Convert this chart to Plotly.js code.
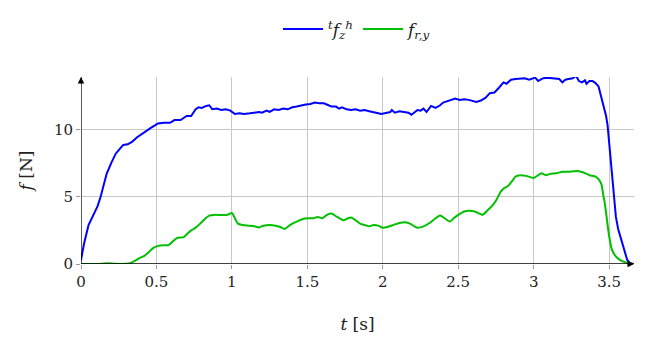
<!DOCTYPE html>
<html><head><meta charset="utf-8">
<script src="https://cdn.plot.ly/plotly-3.0.1.min.js"></script>
<style>body{margin:0;background:#fff}#c{width:667px;height:343px}</style>
</head><body><div id="c"></div>
<script>
const tBlue = [0,0.02,0.05,0.08,0.11,0.13,0.15,0.17,0.2,0.23,0.26,0.28,0.31,0.34,0.37,0.40,0.43,0.46,0.49,0.51,0.55,0.59,0.62,0.66,0.68,0.70,0.73,0.76,0.78,0.80,0.83,0.85,0.87,0.90,0.93,0.96,0.99,1.02,1.05,1.08,1.12,1.15,1.18,1.20,1.23,1.25,1.28,1.31,1.34,1.37,1.40,1.43,1.46,1.49,1.52,1.55,1.58,1.61,1.64,1.66,1.69,1.71,1.73,1.76,1.79,1.82,1.85,1.88,1.91,1.94,1.97,1.99,2.02,2.05,2.06,2.08,2.11,2.14,2.17,2.19,2.21,2.23,2.25,2.27,2.29,2.32,2.35,2.38,2.40,2.43,2.46,2.48,2.51,2.54,2.57,2.60,2.62,2.65,2.68,2.71,2.74,2.77,2.80,2.82,2.85,2.88,2.91,2.94,2.97,2.99,3.01,3.03,3.06,3.09,3.12,3.15,3.17,3.19,3.21,3.23,3.26,3.28,3.30,3.32,3.34,3.35,3.37,3.39,3.41,3.43,3.44,3.45,3.46,3.48,3.49,3.50,3.51,3.52,3.53,3.545,3.56,3.58,3.60,3.62,3.64,3.66];
const fBlue = [0.3,1.5,2.9,3.6,4.3,5.0,5.8,6.7,7.5,8.2,8.6,8.85,8.9,9.1,9.4,9.65,9.85,10.1,10.3,10.45,10.5,10.5,10.7,10.7,10.85,11.0,11.0,11.5,11.65,11.6,11.75,11.8,11.5,11.55,11.45,11.5,11.4,11.15,11.2,11.15,11.2,11.25,11.3,11.25,11.4,11.3,11.5,11.45,11.55,11.5,11.65,11.7,11.8,11.85,11.9,12.0,11.95,11.95,11.8,11.7,11.7,11.55,11.65,11.5,11.45,11.5,11.4,11.45,11.35,11.3,11.2,11.15,11.25,11.3,11.45,11.25,11.35,11.3,11.25,11.1,11.3,11.45,11.4,11.55,11.3,11.75,11.6,11.8,12.0,12.1,12.25,12.3,12.2,12.25,12.2,12.1,12.05,12.15,12.35,12.7,12.75,13.1,13.5,13.4,13.7,13.75,13.75,13.8,13.7,13.75,13.85,13.6,13.8,13.85,13.8,13.8,13.75,13.5,13.7,13.75,13.8,14.0,13.6,13.5,13.65,13.4,13.6,13.6,13.45,13.2,12.8,12.2,11.8,11.0,10.3,9.0,7.5,6.3,5.3,3.5,2.6,1.8,0.9,0.3,0.05,0];
const tGreen = [0,0.1,0.18,0.22,0.3,0.33,0.36,0.39,0.42,0.45,0.48,0.51,0.55,0.58,0.61,0.64,0.68,0.70,0.73,0.76,0.79,0.82,0.85,0.88,0.92,0.96,0.98,1.0,1.02,1.04,1.07,1.11,1.15,1.18,1.21,1.25,1.29,1.32,1.35,1.38,1.41,1.44,1.47,1.51,1.54,1.57,1.60,1.63,1.66,1.69,1.72,1.74,1.77,1.79,1.82,1.85,1.88,1.91,1.94,1.97,2.0,2.03,2.07,2.11,2.15,2.18,2.21,2.23,2.27,2.31,2.35,2.38,2.41,2.445,2.47,2.50,2.54,2.57,2.61,2.64,2.66,2.70,2.73,2.755,2.78,2.80,2.83,2.86,2.88,2.91,2.95,3.0,3.03,3.05,3.08,3.11,3.15,3.19,3.23,3.27,3.30,3.33,3.37,3.41,3.43,3.45,3.46,3.47,3.48,3.49,3.50,3.515,3.53,3.55,3.58,3.615,3.66];
const fGreen = [0,0,0.05,0.02,0.02,0.08,0.25,0.45,0.6,0.9,1.2,1.35,1.4,1.4,1.7,1.95,2.0,2.2,2.5,2.7,3.0,3.35,3.6,3.65,3.65,3.65,3.7,3.8,3.4,3.0,2.9,2.85,2.8,2.72,2.85,2.9,2.85,2.75,2.6,2.85,3.05,3.2,3.35,3.4,3.4,3.5,3.4,3.65,3.75,3.55,3.35,3.25,3.4,3.45,3.25,3.0,2.9,2.8,2.9,2.85,2.7,2.75,2.9,3.05,3.1,3.0,2.8,2.7,2.8,3.05,3.4,3.6,3.4,3.15,3.4,3.65,3.9,3.95,3.9,3.75,3.65,4.05,4.4,4.8,5.35,5.6,5.8,6.2,6.5,6.6,6.55,6.4,6.6,6.75,6.6,6.7,6.75,6.85,6.85,6.9,6.9,6.8,6.6,6.5,6.3,5.9,5.2,4.6,3.8,2.9,2.1,1.2,0.8,0.5,0.25,0.1,0];
const xTicks = [0,0.5,1,1.5,2,2.5,3,3.5];
const xTickText = ['0','0.5','1','1.5','2','2.5','3','3.5'];
const yTicks = [0,5,10];
const yTickText = ['0','5','10'];

const FAM = "'DejaVu Serif', serif";
const traces = [
  {x:tBlue, y:fBlue, type:'scatter', mode:'lines', name:'<sup><i>t</i></sup><i>f</i><sub><i>z</i></sub><sup><i>h</i></sup>', line:{color:'#0000ff', width:2}},
  {x:tGreen, y:fGreen, type:'scatter', mode:'lines', name:'<i>f</i><sub><i>r,y</i></sub>', line:{color:'#00c000', width:2, shape:'spline', smoothing:0.6}}
];
const layout = {
  width:667, height:343,
  margin:{l:81, r:33, t:68, b:79},
  paper_bgcolor:'#fff', plot_bgcolor:'#fff',
  font:{family:FAM, size:15, color:'#222'},
  showlegend:true,
  legend:{orientation:'h', x:0.5, xanchor:'center', y:1.35, yanchor:'top', font:{family:FAM, size:17, color:'#222'}, bgcolor:'rgba(0,0,0,0)', itemwidth:40, tracegroupgap:0},
  xaxis:{range:[0,3.665], tickvals:xTicks, ticktext:xTickText, showgrid:true, gridcolor:'#c8c8c8', gridwidth:1, zeroline:false,
         showline:false, ticks:'outside', ticklen:4, tickcolor:'#999', tickfont:{family:FAM,size:15,color:'#222'}, automargin:false,
         title:{text:'<i>t</i> [s]', font:{family:FAM,size:17,color:'#222'}, standoff:28}},
  yaxis:{range:[0,13.9], tickvals:yTicks, ticktext:yTickText, showgrid:true, gridcolor:'#c8c8c8', gridwidth:1, zeroline:false,
         showline:false, ticks:'outside', ticklen:4, tickcolor:'#999', tickfont:{family:FAM,size:15,color:'#222'}, automargin:false,
         title:{text:'<i>f</i> [N]', font:{family:FAM,size:17,color:'#222'}, standoff:16}},
  shapes:[
    {type:'line', xref:'paper', yref:'y', x0:0, x1:1, y0:0, y1:0, line:{color:'#000', width:1.3}},
    {type:'line', xref:'x', yref:'paper', x0:0, x1:0, y0:0, y1:1, line:{color:'#000', width:1.3}}
  ],
  annotations:[
    {xref:'paper', yref:'paper', x:0, y:1.0, ax:0, ay:8, text:'', showarrow:true, arrowhead:2, arrowsize:1, arrowwidth:1.3, arrowcolor:'#000'},
    {xref:'paper', yref:'paper', x:1.0, y:0, ax:-8, ay:0, text:'', showarrow:true, arrowhead:2, arrowsize:1, arrowwidth:1.3, arrowcolor:'#000'}
  ]
};
Plotly.newPlot('c', traces, layout, {staticPlot:true, displayModeBar:false});
</script></body></html>
